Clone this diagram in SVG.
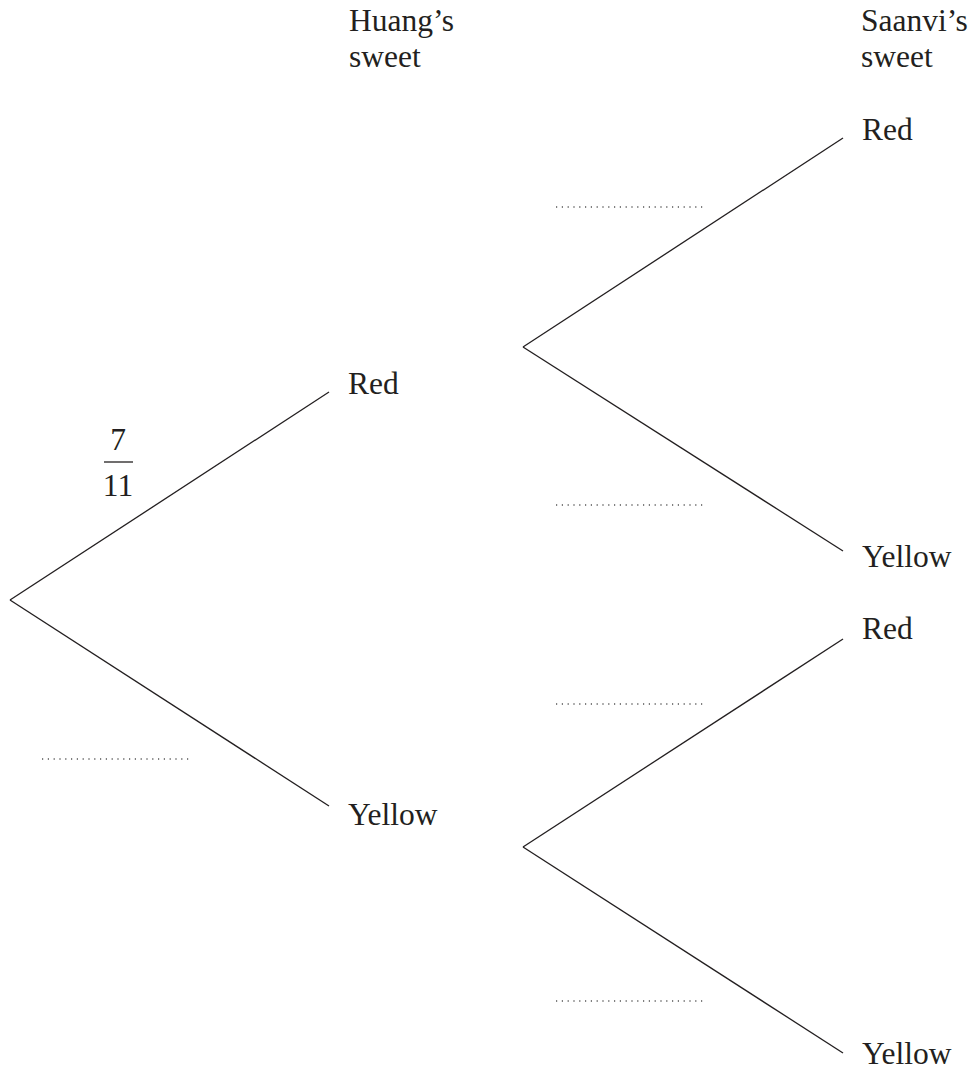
<svg xmlns="http://www.w3.org/2000/svg" width="972" height="1070" viewBox="0 0 972 1070">
<style>
text{font-family:"Liberation Serif","Times New Roman",serif;font-size:31.5px;fill:#231f20}
.br{stroke:#231f20;stroke-width:1.3;fill:none}
.dot{stroke:#555;stroke-width:1.3;stroke-dasharray:1.2 4.6;fill:none}
</style>
<rect width="972" height="1070" fill="#fff"/>
<g id="headers">
<text x="349" y="31">Huang’s</text>
<text x="349" y="67">sweet</text>
<text x="861" y="31">Saanvi’s</text>
<text x="861" y="67">sweet</text>
</g>
<g id="connectors">
<line class="br" x1="10" y1="600" x2="329" y2="392"/>
<line class="br" x1="10" y1="600" x2="329" y2="806"/>
<line class="br" x1="523" y1="347" x2="843" y2="138"/>
<line class="br" x1="523" y1="347" x2="843" y2="551"/>
<line class="br" x1="523" y1="847" x2="843" y2="639"/>
<line class="br" x1="523" y1="847" x2="843" y2="1053"/>
</g>
<g id="node-h-red"><text x="348" y="394">Red</text></g>
<g id="node-h-yellow"><text x="348" y="825">Yellow</text></g>
<g id="node-s-red1"><text x="862" y="140">Red</text></g>
<g id="node-s-yellow1"><text x="862" y="567">Yellow</text></g>
<g id="node-s-red2"><text x="862" y="639">Red</text></g>
<g id="node-s-yellow2"><text x="862" y="1064">Yellow</text></g>
<g id="prob-fraction">
<text x="118" y="450" text-anchor="middle">7</text>
<line x1="104" y1="462" x2="133" y2="462" stroke="#231f20" stroke-width="1.3"/>
<text x="118" y="496" text-anchor="middle">11</text>
</g>
<g id="answer-lines">
<line class="dot" x1="42" y1="759" x2="192" y2="759"/>
<line class="dot" x1="556" y1="207" x2="706" y2="207"/>
<line class="dot" x1="556" y1="505" x2="706" y2="505"/>
<line class="dot" x1="556" y1="704" x2="706" y2="704"/>
<line class="dot" x1="556" y1="1001" x2="706" y2="1001"/>
</g>
</svg>
